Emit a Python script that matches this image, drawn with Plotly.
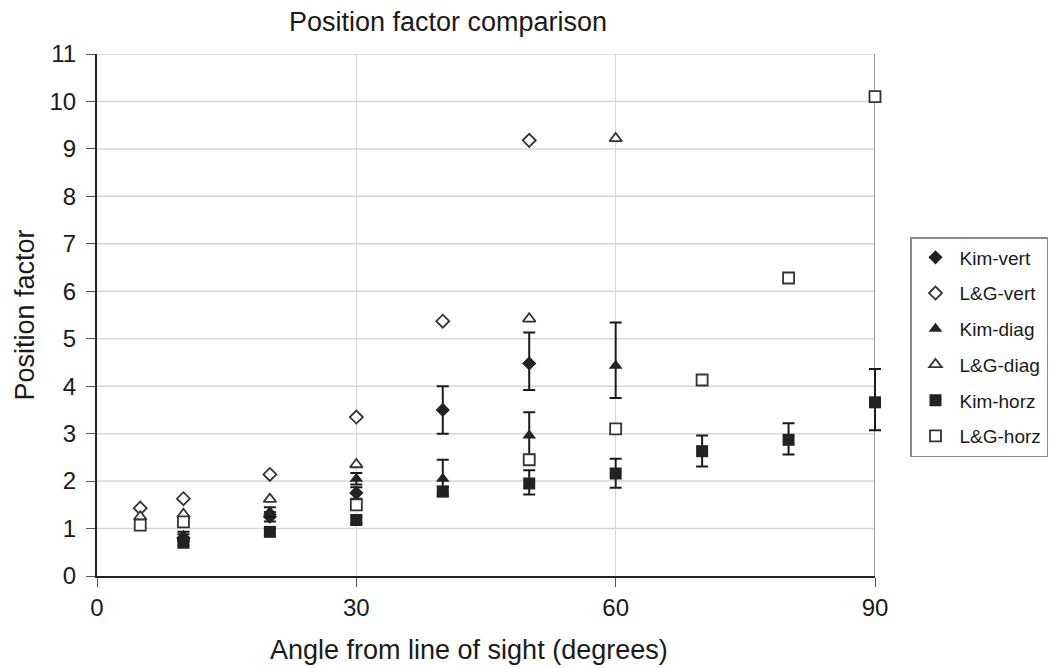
import plotly.graph_objects as go

# ---- data ----
kim_vert_x = [10, 20, 30, 40, 50]
kim_vert_y = [0.80, 1.25, 1.75, 3.50, 4.48]
kim_vert_ep = [0.08, 0.10, 0.12, 0.50, 0.65]
kim_vert_em = [0.08, 0.10, 0.12, 0.50, 0.56]

lg_vert_x = [5, 10, 20, 30, 40, 50]
lg_vert_y = [1.43, 1.63, 2.14, 3.35, 5.37, 9.18]

kim_diag_x = [10, 20, 30, 40, 50, 60]
kim_diag_y = [0.85, 1.35, 2.05, 2.05, 2.96, 4.43]
kim_diag_ep = [0.08, 0.10, 0.12, 0.40, 0.49, 0.91]
kim_diag_em = [0.08, 0.10, 0.12, 0.30, 0.45, 0.68]

lg_diag_x = [5, 10, 20, 30, 50, 60]
lg_diag_y = [1.25, 1.30, 1.62, 2.35, 5.42, 9.22]

kim_horz_x = [10, 20, 30, 40, 50, 60, 70, 80, 90]
kim_horz_y = [0.70, 0.93, 1.18, 1.78, 1.95, 2.16, 2.63, 2.87, 3.66]
kim_horz_ep = [0.06, 0.06, 0.08, 0.10, 0.28, 0.31, 0.33, 0.35, 0.70]
kim_horz_em = [0.06, 0.06, 0.08, 0.10, 0.23, 0.30, 0.32, 0.31, 0.59]

lg_horz_x = [5, 10, 30, 50, 60, 70, 80, 90]
lg_horz_y = [1.07, 1.14, 1.50, 2.45, 3.10, 4.13, 6.28, 10.10]

x_ticks = [0, 30, 60, 90]
y_ticks = list(range(0, 12))
X_MAX = 90
Y_MAX = 11

DARK = "#222222"
OPEN = "#333333"
GRID = "#d6d6d6"

# plot area geometry (pixels)
PLOT_W = 778          # width of the visible 0..90 axis
EXTRA = 12            # extra room so markers/error bars at x=90 are not clipped
TOTAL_W = PLOT_W + EXTRA
D = PLOT_W / TOTAL_W

fig = go.Figure()

def err(ep, em):
    return dict(type="data", symmetric=False, array=ep, arrayminus=em,
                color="#1a1a1a", thickness=2, width=6)

common = dict(mode="markers", xaxis="x2", yaxis="y", cliponaxis=False)

fig.add_trace(go.Scatter(name="Kim-vert", x=kim_vert_x, y=kim_vert_y, legendgroup="a",
                         marker=dict(symbol="diamond", size=11, color=DARK),
                         error_y=err(kim_vert_ep, kim_vert_em), **common))
fig.add_trace(go.Scatter(name="L&G-vert", x=lg_vert_x, y=lg_vert_y, legendgroup="b",
                         marker=dict(symbol="diamond", size=10, color="white",
                                     line=dict(color=OPEN, width=1.8)), **common))
fig.add_trace(go.Scatter(name="Kim-diag", x=kim_diag_x, y=kim_diag_y, legendgroup="c",
                         marker=dict(symbol="triangle-up", size=12, color=DARK),
                         error_y=err(kim_diag_ep, kim_diag_em), **common))
fig.add_trace(go.Scatter(name="L&G-diag", x=lg_diag_x, y=lg_diag_y, legendgroup="d",
                         marker=dict(symbol="triangle-up", size=11, color="white",
                                     line=dict(color=OPEN, width=1.8)), **common))
fig.add_trace(go.Scatter(name="Kim-horz", x=kim_horz_x, y=kim_horz_y, legendgroup="e",
                         marker=dict(symbol="square", size=12, color=DARK),
                         error_y=err(kim_horz_ep, kim_horz_em), **common))
fig.add_trace(go.Scatter(name="L&G-horz", x=lg_horz_x, y=lg_horz_y, legendgroup="f",
                         marker=dict(symbol="square", size=11, color="white",
                                     line=dict(color=OPEN, width=1.8)), **common))

# horizontal gridlines limited to the 0..90 range
for yv in y_ticks[1:]:
    fig.add_shape(type="line", xref="x", yref="y", x0=0, x1=X_MAX, y0=yv, y1=yv,
                  line=dict(color=GRID, width=1.5), layer="below")

fig.add_shape(type="line", xref="x", yref="y", x0=X_MAX, x1=X_MAX, y0=0, y1=Y_MAX,
              line=dict(color="#7a7a7a", width=1.5), layer="below")

FONT = "Liberation Sans, Arial, sans-serif"

fig.add_annotation(text="Angle from line of sight (degrees)", xref="paper", yref="paper",
                   x=(469 - 97) / TOTAL_W, y=-(650 - 576) / 522, xanchor="center",
                   yanchor="middle", showarrow=False, font=dict(size=27))

fig.update_layout(
    width=1060, height=668,
    margin=dict(l=97, r=1060 - 97 - TOTAL_W, t=54, b=92),
    paper_bgcolor="white", plot_bgcolor="rgba(0,0,0,0)",
    font=dict(family=FONT, color="#1a1a1a", size=24),
    title=dict(text="Position factor comparison", x=448/1060, xanchor="center",
               y=1 - 22/668, yanchor="middle", font=dict(size=27)),
    xaxis=dict(domain=[0, D], range=[0, X_MAX], tickvals=x_ticks, showgrid=True,
               gridcolor=GRID, gridwidth=1.2, zeroline=False, showline=True,
               linecolor="#222222", linewidth=2, ticks="outside", ticklen=9,
               tickcolor="#555555", tickfont=dict(size=24), anchor="y"),
    xaxis2=dict(domain=[0, 1], range=[0, X_MAX / D], visible=False, anchor="y",
                showgrid=False, zeroline=False, fixedrange=True),
    yaxis=dict(range=[0, Y_MAX], tickvals=y_ticks, showgrid=False,
               zeroline=False, showline=True, linecolor="#222222",
               linewidth=2, ticks="outside", ticklen=9, tickcolor="#555555",
               tickfont=dict(size=24), ticklabelstandoff=5,
               title=dict(text="Position factor", font=dict(size=27), standoff=7)),
    legend=dict(x=(910 - 97) / TOTAL_W, xanchor="left", y=(576 - 237) / 522, yanchor="top",
                bordercolor="#8a8a8a", borderwidth=1.5, bgcolor="white",
                font=dict(size=19), traceorder="grouped", tracegroupgap=8,
                itemwidth=38),
    showlegend=True,
)

fig.write_html("out.html")
